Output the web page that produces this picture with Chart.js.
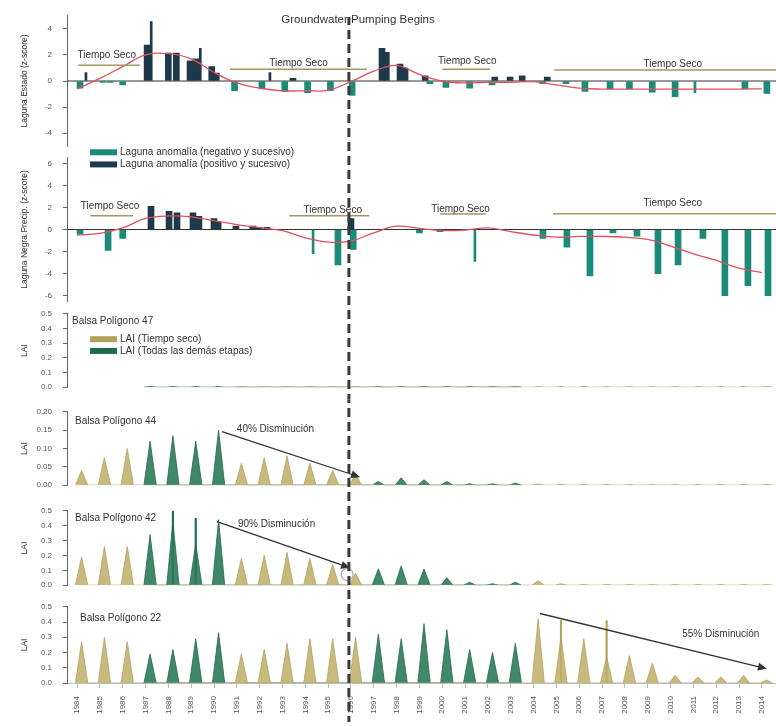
<!DOCTYPE html>
<html>
<head>
<meta charset="utf-8">
<script src="https://cdn.jsdelivr.net/npm/chart.js@4.4.1/dist/chart.umd.min.js"></script>
<style>
  html, body { margin: 0; padding: 0; background: #fff; }
  #wrap { position: relative; width: 776px; height: 726px; overflow: hidden; }
  #wrap canvas { position: absolute; left: 0; }
</style>
</head>
<body>
<div id="wrap">
  <canvas id="c1" width="776" height="162" style="top:0px"></canvas>
  <canvas id="c2" width="776" height="175" style="top:142px"></canvas>
  <canvas id="c3" width="776" height="105" style="top:298px"></canvas>
  <canvas id="c4" width="776" height="105" style="top:396px"></canvas>
  <canvas id="c5" width="776" height="106" style="top:495px"></canvas>
  <canvas id="c6" width="776" height="135" style="top:591px"></canvas>
</div>
<script>
// ---- data ----
const years = [1984, 1985, 1986, 1987, 1988, 1989, 1990, 1991, 1992, 1993, 1994, 1995, 1996, 1997, 1998, 1999,
               2000, 2001, 2002, 2003, 2004, 2005, 2006, 2007, 2008, 2009, 2010, 2011, 2012, 2013, 2014];
// 1 = tiempo seco
const dryYears = [1, 1, 1, 0, 0, 0, 0, 1, 1, 1, 1, 1, 1, 0, 0, 0, 0, 0, 0, 0, 1, 1, 1, 1, 1, 1, 1, 1, 1, 1, 1];

// laguna estado (z-score)
const lagunaTrend = [-0.6, 0.2, 1.1, 2.0, 2.1, 1.7, 0.65, -0.15, -0.55, -0.75, -0.75, -0.7, -0.05, 0.75, 1.2, 0.5,
                     0.0, -0.15, -0.1, -0.1, -0.05, -0.3, -0.55, -0.62, -0.62, -0.62, -0.62, -0.62, -0.62, -0.62, -0.6];
const lagunaBarX = [1984.13, 1985.14, 1985.45, 1986.0, 1987.07, 1988.0, 1988.35, 1988.95, 1989.2, 1989.9, 1990.1,
                    1990.9, 1992.1, 1993.1, 1993.46, 1994.1, 1995.1, 1996.05, 1997.36, 1997.55, 1998.15, 1998.37,
                    1999.25, 1999.46, 2000.16, 2001.2, 2002.18, 2002.3, 2002.97, 2003.5, 2004.4, 2004.6, 2005.42,
                    2006.25, 2007.35, 2008.2, 2009.2, 2010.2, 2013.26, 2014.22];
const lagunaBarY = [-0.55, -0.1, -0.1, -0.3, 2.75, 2.15, 2.15, 1.55, 1.7, 1.1, 0.6,
                    -0.75, -0.6, -0.8, 0.2, -0.9, -0.75, -1.1, 2.5, 2.2, 1.3, 1.0,
                    0.4, -0.2, -0.5, -0.55, -0.3, 0.3, 0.3, 0.4, -0.2, 0.3, -0.2,
                    -0.8, -0.6, -0.6, -0.85, -1.2, -0.6, -0.95];
const lagunaSpikeX = [1984.39, 1987.25, 1989.4, 1992.45, 2011.07];
const lagunaSpikeY = [0.65, 4.55, 2.5, 0.65, -0.9];

// precipitacion (z-score)
const precipTrend = [-0.5, -0.35, 0.15, 1.0, 1.23, 1.15, 0.8, 0.45, 0.17, -0.1, -0.75, -1.15, -1.05, -0.3, 0.3, 0.1,
                     -0.1, -0.05, 0.15, -0.2, -0.5, -0.7, -0.63, -0.63, -0.7, -0.9, -1.5, -2.2, -2.8, -3.5, -3.9];
const precipBarX = [1984.13, 1985.36, 1986.0, 1987.24, 1988.03, 1988.38, 1989.08, 1989.34, 1990.0, 1990.18,
                    1990.96, 1991.7, 1991.97, 1992.32, 1995.43, 1996.0, 1996.1, 1999.0, 1999.9, 2004.41,
                    2005.46, 2006.47, 2007.48, 2008.53, 2009.45, 2010.33, 2011.42, 2012.38, 2013.39, 2014.27];
const precipBarY = [-0.4, -1.9, -0.8, 2.1, 1.65, 1.5, 1.5, 1.2, 1.0, 0.7,
                    0.3, 0.3, 0.2, 0.2, -3.2, 1.0, -1.8, -0.3, -0.2, -0.8,
                    -1.6, -4.2, -0.3, -0.6, -4.0, -3.2, -0.8, -6.0, -5.1, -6.0];
const precipSpikeX = [1994.34, 2001.43];
const precipSpikeY = [-2.2, -2.9];

// LAI peaks per year
const lai47 = [null, null, null, 0.004, 0.004, 0.004, 0.004, 0.004, 0.004, 0.004, 0.004, 0.004, 0.004, 0.004, 0.004, 0.004,
               0.004, 0.004, 0.004, 0.004, 0.004, 0.004, 0.004, 0.004, 0.004, 0.004, 0.004, 0.004, 0.004, 0.004, 0.004];
const lai44 = [0.04, 0.075, 0.10, 0.12, 0.135, 0.12, 0.15, 0.06, 0.075, 0.08, 0.06, 0.04, 0.03, 0.01, 0.02, 0.015,
               0.01, 0.004, 0.004, 0.006, 0.003, 0.002, 0.002, 0.002, 0.002, 0.002, 0.002, 0.002, 0.002, 0.002, 0.002];
const lai42 = [0.19, 0.26, 0.26, 0.34, 0.43, 0.28, 0.44, 0.18, 0.20, 0.22, 0.18, 0.14, 0.08, 0.11, 0.13, 0.11,
               0.05, 0.02, 0.01, 0.02, 0.03, 0.01, 0.005, 0.005, 0.005, 0.005, 0.005, 0.004, 0.004, 0.004, 0.004];
const lai22 = [0.27, 0.30, 0.27, 0.19, 0.22, 0.29, 0.33, 0.19, 0.22, 0.26, 0.29, 0.29, 0.30, 0.32, 0.29, 0.39,
               0.35, 0.22, 0.20, 0.26, 0.42, 0.30, 0.29, 0.17, 0.18, 0.13, 0.05, 0.04, 0.04, 0.05, 0.02];
const lai42SpikeYears = [1988, 1989];
const lai42SpikeVals = [0.5, 0.45];
const lai22SpikeYears = [2005, 2007];
const lai22SpikeVals = [0.41, 0.41];

// axis ticks
const zTicks1 = [-4, -2, 0, 2, 4];
const zTicks2 = [-6, -4, -2, 0, 2, 4, 6];
const laiTicks = [0, 0.1, 0.2, 0.3, 0.4, 0.5];
const laiTicksSmall = [0, 0.05, 0.10, 0.15, 0.20];

// ---- setup ----
Chart.defaults.font.family = "'Liberation Sans', Arial, sans-serif";
Chart.defaults.animation = false;

const X_MIN = 1983.56, X_MAX = 2014.62;
const PUMP_YEAR = 1995.91;
const PEAK_OFFSET = 0.2, HALF_W = 0.27;
const TAN = '#b3a25c', TAN_FILL = 'rgba(190,174,104,0.85)';
const GREEN = '#1f6b4e', GREEN_FILL = 'rgba(44,122,90,0.9)';
const NEG = '#1b8a78', POS = '#1e3a4a';
const FONT = "'Liberation Sans', Arial, sans-serif";
const NOTE = '10px ' + FONT;

function pairs(xs, ys) { return xs.map((x, i) => ({x: x, y: ys[i]})); }

function triangles(values, wantDry) {
  const pts = [];
  values.forEach((v, i) => {
    if (v === null || (dryYears[i] === 1) !== wantDry) return;
    const c = years[i] + PEAK_OFFSET;
    pts.push({x: c - HALF_W, y: 0}, {x: c, y: v}, {x: c + HALF_W, y: 0});
  });
  return pts;
}

function laiSets(values) {
  return [
    {type: 'line', data: triangles(values, true), borderColor: TAN, backgroundColor: TAN_FILL,
     borderWidth: 0.8, fill: 'origin', pointRadius: 0, tension: 0},
    {type: 'line', data: triangles(values, false), borderColor: GREEN, backgroundColor: GREEN_FILL,
     borderWidth: 0.8, fill: 'origin', pointRadius: 0, tension: 0}
  ];
}

function spikeSet(ys, vals, color) {
  return {type: 'bar', data: ys.map((y, i) => ({x: y + PEAK_OFFSET, y: vals[i]})), backgroundColor: color,
          barThickness: 1.5, grouped: false};
}

function barSet(xs, ys, thick) {
  return {type: 'bar', data: pairs(xs, ys), grouped: false, barThickness: thick,
          backgroundColor: c => (c.raw && c.raw.y < 0 ? NEG : POS)};
}

function trendSet(values) {
  return {type: 'line', data: pairs(years, values), borderColor: '#e0505c', borderWidth: 1.3,
          pointRadius: 0, tension: 0.4, fill: false};
}

const decorPlugin = {
  id: 'decor',
  beforeDatasetsDraw(chart, args, o) {
    if (!o.zero) return;
    const {ctx, chartArea} = chart;
    const y0 = chart.scales.y.getPixelForValue(0);
    ctx.save();
    ctx.strokeStyle = '#333';
    ctx.lineWidth = 1;
    ctx.beginPath();
    ctx.moveTo(chartArea.left, y0);
    ctx.lineTo(chartArea.right, y0);
    ctx.stroke();
    ctx.restore();
  },
  afterDatasetsDraw(chart, args, o) {
    const ctx = chart.ctx;
    const px = v => chart.scales.x.getPixelForValue(v);
    const py = v => chart.scales.y.getPixelForValue(v);
    ctx.save();
    ctx.textBaseline = 'middle';

    (o.seco || []).forEach(s => {
      ctx.strokeStyle = '#a39766';
      ctx.lineWidth = 1.5;
      ctx.beginPath();
      ctx.moveTo(px(s.from), py(s.lineY));
      ctx.lineTo(px(s.to), py(s.lineY));
      ctx.stroke();
      ctx.fillStyle = '#333';
      ctx.font = NOTE;
      ctx.textAlign = 'center';
      ctx.fillText('Tiempo Seco', px(s.textX), py(s.textY));
    });

    (o.arrows || []).forEach(a => {
      const x1 = px(a.x1), y1 = py(a.y1), x2 = px(a.x2), y2 = py(a.y2);
      const ang = Math.atan2(y2 - y1, x2 - x1);
      ctx.strokeStyle = '#333';
      ctx.fillStyle = '#333';
      ctx.lineWidth = 1.3;
      ctx.beginPath();
      ctx.moveTo(x1, y1);
      ctx.lineTo(x2 - 6 * Math.cos(ang), y2 - 6 * Math.sin(ang));
      ctx.stroke();
      ctx.beginPath();
      ctx.moveTo(x2, y2);
      ctx.lineTo(x2 - 9 * Math.cos(ang) + 4 * Math.sin(ang), y2 - 9 * Math.sin(ang) - 4 * Math.cos(ang));
      ctx.lineTo(x2 - 9 * Math.cos(ang) - 4 * Math.sin(ang), y2 - 9 * Math.sin(ang) + 4 * Math.cos(ang));
      ctx.closePath();
      ctx.fill();
    });

    (o.circles || []).forEach(c => {
      ctx.beginPath();
      ctx.arc(px(c.x), py(c.y), 6, 0, Math.PI * 2);
      ctx.fillStyle = '#fff';
      ctx.fill();
      ctx.strokeStyle = '#aaa';
      ctx.lineWidth = 1.2;
      ctx.stroke();
    });

    (o.legend || []).forEach(l => {
      const x = px(l.x), y = py(l.y);
      ctx.fillStyle = l.color;
      ctx.fillRect(x, y - 3, 27, 6);
      ctx.fillStyle = '#333';
      ctx.font = NOTE;
      ctx.textAlign = 'left';
      ctx.fillText(l.text, x + 30, y);
    });

    (o.texts || []).forEach(t => {
      ctx.fillStyle = '#333';
      ctx.font = (t.size || 10) + 'px ' + FONT;
      ctx.textAlign = t.align || 'left';
      ctx.fillText(t.text, px(t.x), py(t.y));
    });

    if (o.dash) {
      const x = px(PUMP_YEAR);
      ctx.strokeStyle = '#3a3a3a';
      ctx.lineWidth = 3;
      ctx.setLineDash([9, 5]);
      ctx.lineDashOffset = o.dash.from - 16;
      ctx.beginPath();
      ctx.moveTo(x, o.dash.from - o.dash.top);
      ctx.lineTo(x, o.dash.to - o.dash.top);
      ctx.stroke();
    }
    ctx.restore();
  }
};

function yAxis(min, max, ticks, title, digits) {
  return {
    type: 'linear', min: min, max: max,
    afterBuildTicks: s => { s.ticks = ticks.map(v => ({value: v})); },
    afterFit: s => { s.width = 67; },
    ticks: {font: {size: 8}, color: '#555', padding: 11,
            callback: v => (digits === undefined ? String(v) : Number(v).toFixed(digits))},
    grid: {drawOnChartArea: false, tickLength: 4, color: '#666'},
    border: {color: '#666', width: 1},
    title: {display: true, text: title, color: '#333', font: {size: 8.5}, padding: {top: 20, bottom: 0}}
  };
}

function xAxis(show) {
  if (!show) return {type: 'linear', min: X_MIN, max: X_MAX, offset: false, display: false};
  return {
    type: 'linear', min: X_MIN, max: X_MAX, offset: false,
    afterBuildTicks: s => { s.ticks = years.map(v => ({value: v})); },
    afterFit: s => { s.height = 43; s.paddingLeft = 0; s.paddingRight = 0; },
    ticks: {font: {size: 8}, color: '#555', autoSkip: false, minRotation: 90, maxRotation: 90,
            padding: 8, callback: v => String(v)},
    grid: {drawOnChartArea: false, offset: false, tickLength: 5, color: '#bbb'},
    border: {color: '#bbb', width: 1}
  };
}

function makeChart(id, datasets, y, decor, pad, showX) {
  new Chart(document.getElementById(id), {
    type: 'line',
    data: {datasets: datasets},
    options: {
      responsive: false,
      animation: false,
      layout: {padding: {top: pad[0], bottom: pad[1], left: 0, right: 0}},
      scales: {x: xAxis(showX), y: y},
      plugins: {legend: {display: false}, tooltip: {enabled: false}, decor: decor}
    },
    plugins: [decorPlugin]
  });
}

// panel 1: laguna estado
makeChart('c1', [
  trendSet(lagunaTrend),
  barSet(lagunaBarX, lagunaBarY, 6),
  barSet(lagunaSpikeX, lagunaSpikeY, 2)
], yAxis(-5, 5, zTicks1, 'Laguna Estado (z-score)'), {
  zero: true,
  seco: [
    {from: 1984.05, to: 1986.75, lineY: 1.2, textX: 1985.3, textY: 1.95},
    {from: 1990.7, to: 1996.7, lineY: 0.9, textX: 1993.7, textY: 1.35},
    {from: 2000.0, to: 2002.1, lineY: 0.9, textX: 2001.1, textY: 1.55},
    {from: 2004.9, to: 2014.62, lineY: 0.85, textX: 2010.1, textY: 1.27}
  ],
  texts: [{x: 1996.31, y: 4.72, text: 'Groundwater Pumping Begins', align: 'center', size: 11.5}],
  dash: {top: 0, from: 17, to: 152}
}, [8, 12], false);

// panel 2: precipitacion
makeChart('c2', [
  trendSet(precipTrend),
  barSet(precipBarX, precipBarY, 6),
  barSet(precipSpikeX, precipSpikeY, 2)
], yAxis(-6.5, 6.5, zTicks2, 'Laguna Negra Precip. (z-score)'), {
  zero: true,
  seco: [
    {from: 1984.57, to: 1986.45, lineY: 1.25, textX: 1985.45, textY: 2.1},
    {from: 1993.3, to: 1996.8, lineY: 1.25, textX: 1995.2, textY: 1.7},
    {from: 1999.9, to: 2001.9, lineY: 1.4, textX: 2000.8, textY: 1.85},
    {from: 2004.85, to: 2014.62, lineY: 1.42, textX: 2010.1, textY: 2.37}
  ],
  legend: [
    {x: 1984.57, y: 7.0, color: NEG, text: 'Laguna anomalía (negativo y sucesivo)'},
    {x: 1984.57, y: 5.9, color: POS, text: 'Laguna anomalía (positivo y sucesivo)'}
  ],
  dash: {top: 142, from: 152, to: 307.5}
}, [12, 12], false);

// panel 3
makeChart('c3', laiSets(lai47), yAxis(0, 0.5, laiTicks, 'LAI', 1), {
  texts: [{x: 1983.78, y: 0.45, text: 'Balsa Polígono 47'}],
  legend: [
    {x: 1984.57, y: 0.327, color: TAN, text: 'LAI (Tiempo seco)'},
    {x: 1984.57, y: 0.247, color: GREEN, text: 'LAI (Todas las demás etapas)'}
  ],
  dash: {top: 298, from: 307.5, to: 399.5}
}, [12, 12], false);

// panel 4
makeChart('c4', laiSets(lai44), yAxis(0, 0.2, laiTicksSmall, 'LAI', 2), {
  texts: [
    {x: 1983.91, y: 0.175, text: 'Balsa Polígono 44'},
    {x: 1991.0, y: 0.153, text: '40% Disminución'}
  ],
  arrows: [{x1: 1990.35, y1: 0.146, x2: 1996.4, y2: 0.022}],
  dash: {top: 396, from: 399.5, to: 498}
}, [12, 12], false);

// panel 5
makeChart('c5', laiSets(lai42).concat([spikeSet(lai42SpikeYears, lai42SpikeVals, GREEN)]),
  yAxis(0, 0.5, laiTicks, 'LAI', 1), {
  texts: [
    {x: 1983.91, y: 0.45, text: 'Balsa Polígono 42'},
    {x: 1991.05, y: 0.41, text: '90% Disminución'}
  ],
  arrows: [{x1: 1990.13, y1: 0.427, x2: 1995.96, y2: 0.116}],
  circles: [{x: 1995.83, y: 0.073}],
  dash: {top: 495, from: 498, to: 596}
}, [12, 12], false);

// panel 6
makeChart('c6', laiSets(lai22).concat([spikeSet(lai22SpikeYears, lai22SpikeVals, TAN)]),
  yAxis(0, 0.5, laiTicks, 'LAI', 1), {
  texts: [
    {x: 1984.13, y: 0.425, text: 'Balsa Polígono 22'},
    {x: 2012.2, y: 0.32, text: '55% Disminución', align: 'center'}
  ],
  arrows: [{x1: 2004.28, y1: 0.456, x2: 2014.22, y2: 0.094}],
  dash: {top: 591, from: 596, to: 722}
}, [12, 0], true);
</script>
</body>
</html>
